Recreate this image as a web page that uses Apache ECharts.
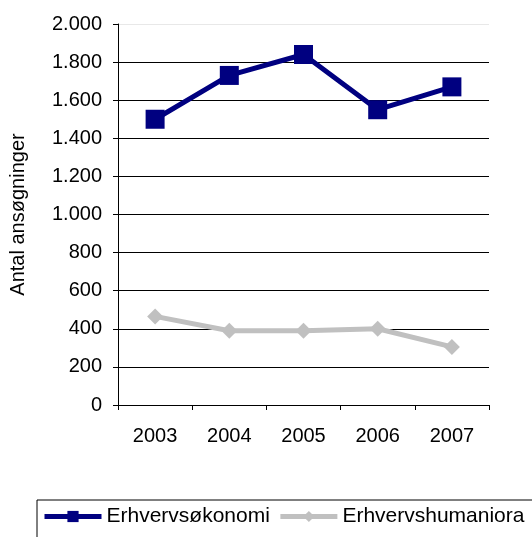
<!DOCTYPE html>
<html>
<head>
<meta charset="utf-8">
<script src="https://cdn.jsdelivr.net/npm/echarts@6/dist/echarts.min.js"></script>
<style>
  html, body { margin: 0; padding: 0; background: #fff; }
  #chart { width: 532px; height: 537px; }
</style>
</head>
<body>
<div id="chart"></div>
<script>
const years = ['2003', '2004', '2005', '2006', '2007']
const oekonomi = [1500, 1730, 1840, 1550, 1670]
const humaniora = [465, 390, 390, 400, 305]

const chart = echarts.init(document.getElementById('chart'))

const fmt = (v) => v.toString().replace(/\B(?=(\d{3})+(?!\d))/g, '.')

chart.setOption({
  animation: false,
  textStyle: { fontFamily: 'Liberation Sans, Arial, sans-serif' },
  grid: { left: 118, right: 43, top: 24, bottom: 132 },
  legend: {
    left: 37,
    top: 500,
    width: 700,
    padding: [6, 60, 12, 5],
    borderColor: '#000',
    borderWidth: 1,
    itemWidth: 57,
    itemHeight: 14,
    itemGap: 8,
    lineStyle: { width: 5 },
    textStyle: { fontSize: 21, color: '#000', fontFamily: 'Liberation Sans, Arial, sans-serif' },
    data: ['Erhvervsøkonomi', 'Erhvervshumaniora'],
  },
  xAxis: {
    type: 'category',
    data: years,
    boundaryGap: true,
    axisLine: { lineStyle: { color: '#000', width: 1 } },
    axisTick: { show: true, length: 5, inside: false, lineStyle: { color: '#000' } },
    axisLabel: { color: '#000', fontSize: 20, margin: 21 },
  },
  yAxis: {
    type: 'value',
    min: 0,
    max: 2000,
    interval: 200,
    name: 'Antal ansøgninger',
    nameLocation: 'middle',
    nameGap: 90,
    nameRotate: 90,
    nameTextStyle: { fontSize: 20, color: '#000' },
    axisLine: { show: true, lineStyle: { color: '#000', width: 1 } },
    axisTick: { show: true, length: 5, lineStyle: { color: '#000' } },
    axisLabel: { color: '#000', fontSize: 20, margin: 16, formatter: fmt },
    splitLine: {
      show: true,
      lineStyle: {
        color: ['#000', '#000', '#000', '#000', '#000', '#000', '#000', '#000', '#000', '#000', '#e8e8e8'],
        width: 1,
      },
    },
  },
  series: [
    {
      name: 'Erhvervsøkonomi',
      type: 'line',
      data: oekonomi,
      symbol: 'rect',
      symbolSize: 19,
      lineStyle: { color: '#000080', width: 5 },
      itemStyle: { color: '#000080' },
    },
    {
      name: 'Erhvervshumaniora',
      type: 'line',
      data: humaniora,
      symbol: 'diamond',
      symbolSize: 16,
      lineStyle: { color: '#c0c0c0', width: 5 },
      itemStyle: { color: '#c0c0c0' },
    },
  ],
})
</script>
</body>
</html>
